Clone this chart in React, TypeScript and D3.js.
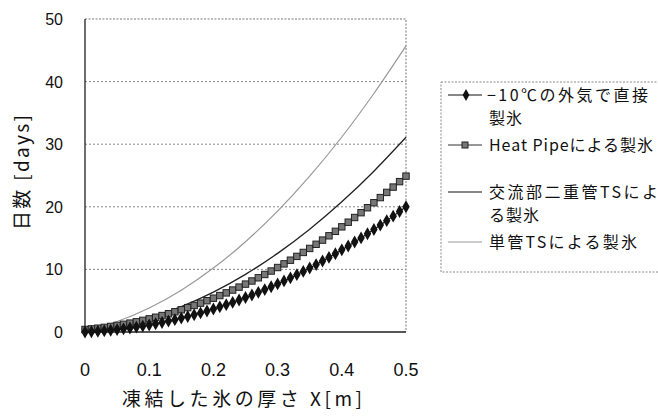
import { useEffect, useRef } from 'react';
import * as d3 from 'd3';

// thickness X [m] sampled for the marker series
const xFine = [
  0, 0.01, 0.02, 0.03, 0.04, 0.05, 0.06, 0.07, 0.08, 0.09, 0.1, 0.11, 0.12, 0.13, 0.14, 0.15, 0.16,
  0.17, 0.18, 0.19, 0.2, 0.21, 0.22, 0.23, 0.24, 0.25, 0.26, 0.27, 0.28, 0.29, 0.3, 0.31, 0.32, 0.33,
  0.34, 0.35, 0.36, 0.37, 0.38, 0.39, 0.4, 0.41, 0.42, 0.43, 0.44, 0.45, 0.46, 0.47, 0.48, 0.49, 0.5,
];
const directDays = [
  0, 0.05, 0.11, 0.19, 0.28, 0.38, 0.5, 0.63, 0.78, 0.94, 1.12, 1.31, 1.52, 1.74, 1.97, 2.22, 2.48,
  2.76, 3.05, 3.36, 3.68, 4.02, 4.37, 4.73, 5.11, 5.5, 5.91, 6.33, 6.77, 7.22, 7.68, 8.16, 8.65, 9.16,
  9.68, 10.22, 10.77, 11.34, 11.92, 12.51, 13.12, 13.74, 14.38, 15.03, 15.7, 16.38, 17.08, 17.79,
  18.51, 19.25, 20.0,
];
const heatPipeDays = [
  0.4, 0.5, 0.61, 0.74, 0.89, 1.05, 1.23, 1.42, 1.63, 1.86, 2.1, 2.36, 2.63, 2.92, 3.23, 3.55, 3.89,
  4.24, 4.61, 5.0, 5.4, 5.82, 6.25, 6.7, 7.17, 7.65, 8.15, 8.66, 9.19, 9.74, 10.3, 10.88, 11.47,
  12.08, 12.71, 13.35, 14.01, 14.68, 15.37, 16.08, 16.8, 17.54, 18.29, 19.06, 19.85, 20.65, 21.47,
  22.3, 23.15, 24.02, 24.9,
];
// smooth line series
const xCoarse = [0, 0.05, 0.1, 0.15, 0.2, 0.25, 0.3, 0.35, 0.4, 0.45, 0.5];
const doubleTsDays = [0.2, 0.97, 2.26, 4.06, 6.38, 9.21, 12.56, 16.42, 20.8, 25.69, 31.1];
const singleTsDays = [0.2, 1.68, 3.84, 6.68, 10.21, 14.42, 19.31, 24.89, 31.15, 38.1, 45.7];

const xTicks = [0, 0.1, 0.2, 0.3, 0.4, 0.5];
const yTicks = [0, 10, 20, 30, 40, 50];

const legendItems = [
  { lines: ['−10℃の外気で直接', '製氷'], widths: [162, 0], kind: 'diamond' },
  { lines: ['Heat Pipeによる製氷'], widths: [165], kind: 'square' },
  { lines: ['交流部二重管TSによ', 'る製氷'], widths: [170, 0], kind: 'dark' },
  { lines: ['単管TSによる製氷'], widths: [149], kind: 'light' },
];

const jp = '"Noto Sans CJK JP", "Liberation Sans", sans-serif';
const num = '"Liberation Sans", Arial, sans-serif';

export default function App() {
  const svgRef = useRef<SVGSVGElement>(null);

  useEffect(() => {
    const svg = d3.select(svgRef.current);
    if (!svg.node()) return;
    svg.selectAll('*').remove();

    const x = d3.scaleLinear().domain([0, 0.5]).range([85, 406]);
    const y = d3.scaleLinear().domain([0, 50]).range([332, 19]);

    // grid
    svg
      .append('g')
      .selectAll('line')
      .data(yTicks.slice(1, -1))
      .join('line')
      .attr('x1', x(0))
      .attr('x2', x(0.5))
      .attr('y1', (d) => y(d))
      .attr('y2', (d) => y(d))
      .attr('stroke', '#888')
      .attr('stroke-width', 1)
      .attr('stroke-dasharray', '2 2');

    // frame: top/right dotted, left/bottom solid
    svg
      .append('path')
      .attr('d', `M${x(0)},${y(50)}H${x(0.5)}V${y(0)}`)
      .attr('fill', 'none')
      .attr('stroke', '#777')
      .attr('stroke-dasharray', '2 1.5');
    svg
      .append('path')
      .attr('d', `M${x(0)},${y(50)}V${y(0)}H${x(0.5)}`)
      .attr('fill', 'none')
      .attr('stroke', '#222')
      .attr('stroke-width', 1.3);

    // tick labels
    svg
      .append('g')
      .selectAll('text')
      .data(yTicks)
      .join('text')
      .attr('x', 63)
      .attr('y', (d) => y(d) + 6)
      .attr('text-anchor', 'end')
      .attr('font-family', num)
      .attr('font-size', 16)
      .attr('fill', '#111')
      .text((d) => d);
    svg
      .append('g')
      .selectAll('text')
      .data(xTicks)
      .join('text')
      .attr('x', (d) => x(d))
      .attr('y', 376)
      .attr('text-anchor', 'middle')
      .attr('font-family', num)
      .attr('font-size', 18)
      .attr('fill', '#111')
      .text((d) => (d === 0 ? '0' : d.toFixed(1)));

    svg
      .append('text')
      .attr('x', 122)
      .attr('y', 406)
      .attr('font-family', jp)
      .attr('font-size', 19)
      .attr('fill', '#111')
      .attr('textLength', 240)
      .attr('lengthAdjust', 'spacing')
      .text('凍結した氷の厚さ X[m]');
    svg
      .append('text')
      .attr('transform', 'translate(29,230) rotate(-90)')
      .attr('font-family', jp)
      .attr('font-size', 19)
      .attr('fill', '#111')
      .attr('textLength', 115)
      .attr('lengthAdjust', 'spacing')
      .text('日数 [days]');

    const line = d3
      .line<[number, number]>()
      .x((d) => x(d[0]))
      .y((d) => y(d[1]))
      .curve(d3.curveMonotoneX);

    const g = svg.append('g');
    g.append('path')
      .datum(xCoarse.map((v, i) => [v, singleTsDays[i]] as [number, number]))
      .attr('d', line)
      .attr('fill', 'none')
      .attr('stroke', '#999')
      .attr('stroke-width', 1.2);
    g.append('path')
      .datum(xCoarse.map((v, i) => [v, doubleTsDays[i]] as [number, number]))
      .attr('d', line)
      .attr('fill', 'none')
      .attr('stroke', '#222')
      .attr('stroke-width', 1.3);

    const hp = xFine.map((v, i) => [v, heatPipeDays[i]] as [number, number]);
    g.append('path')
      .datum(hp)
      .attr('d', line)
      .attr('fill', 'none')
      .attr('stroke', '#333')
      .attr('stroke-width', 1.2);
    g.selectAll('rect.hp')
      .data(hp)
      .join('rect')
      .attr('class', 'hp')
      .attr('x', (d) => x(d[0]) - 3.2)
      .attr('y', (d) => y(d[1]) - 3.2)
      .attr('width', 6.4)
      .attr('height', 6.4)
      .attr('fill', '#777')
      .attr('stroke', '#222')
      .attr('stroke-width', 1);

    const dr = xFine.map((v, i) => [v, directDays[i]] as [number, number]);
    g.append('path')
      .datum(dr)
      .attr('d', line)
      .attr('fill', 'none')
      .attr('stroke', '#111')
      .attr('stroke-width', 1.2);
    const diamond = d3.symbol().type(d3.symbolDiamond).size(48);
    g.selectAll('path.dr')
      .data(dr)
      .join('path')
      .attr('class', 'dr')
      .attr('d', diamond)
      .attr('transform', (d) => `translate(${x(d[0])},${y(d[1])})`)
      .attr('fill', '#111');

    // legend
    const lg = svg.append('g');
    lg.append('rect')
      .attr('x', 441)
      .attr('y', 82)
      .attr('width', 220)
      .attr('height', 190)
      .attr('fill', 'none')
      .attr('stroke', '#888')
      .attr('stroke-dasharray', '2 1.5');
    const rowY = [95, 145, 192, 242];
    legendItems.forEach((item, i) => {
      const cy = rowY[i];
      const color = item.kind === 'light' ? '#999' : item.kind === 'square' ? '#333' : '#111';
      lg.append('line')
        .attr('x1', 448)
        .attr('x2', 482)
        .attr('y1', cy)
        .attr('y2', cy)
        .attr('stroke', color)
        .attr('stroke-width', 1.2);
      if (item.kind === 'diamond') {
        lg.append('path')
          .attr('d', d3.symbol().type(d3.symbolDiamond).size(40)())
          .attr('transform', `translate(466,${cy})`)
          .attr('fill', '#111');
      } else if (item.kind === 'square') {
        lg.append('rect')
          .attr('x', 462)
          .attr('y', cy - 3)
          .attr('width', 6)
          .attr('height', 6)
          .attr('fill', '#777')
          .attr('stroke', '#222');
      }
      item.lines.forEach((t, j) => {
        const txt = lg
          .append('text')
          .attr('x', j === 0 && i === 0 ? 487 : 489)
          .attr('y', cy + 6 + j * 23)
          .attr('font-family', jp)
          .attr('font-size', 16)
          .attr('fill', '#111')
          .attr('letter-spacing', 1)
          .text(t);
        if (item.widths[j]) txt.attr('textLength', item.widths[j]).attr('lengthAdjust', 'spacing');
      });
    });
  }, []);

  return (
    <div style={{ position: 'fixed', left: 0, top: 0, background: '#fff' }}>
      <svg ref={svgRef} width={658} height={417} />
    </div>
  );
}
